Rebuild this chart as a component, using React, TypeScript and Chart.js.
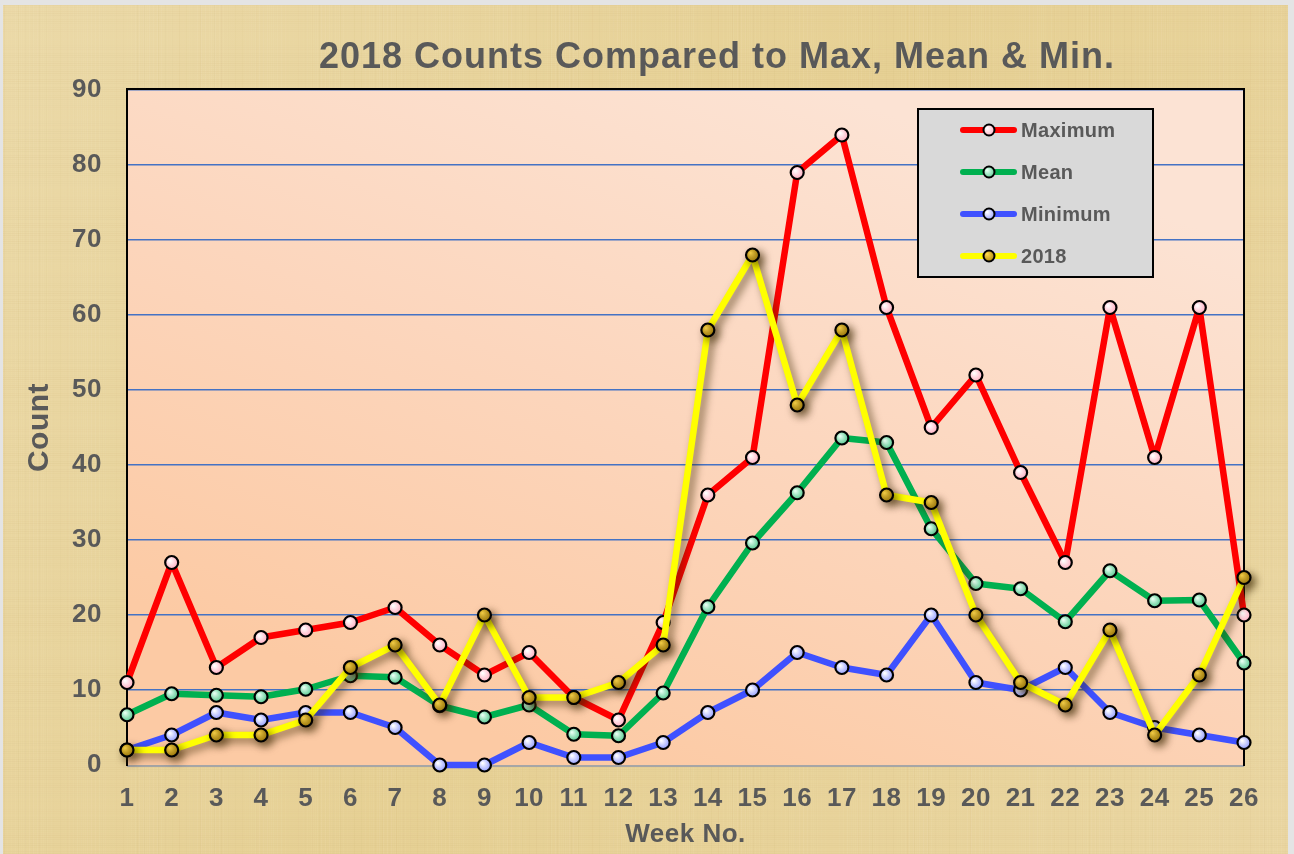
import { useEffect, useRef } from "react";
import { Chart, registerables } from "chart.js";

Chart.register(...registerables);

const weeks = ["1","2","3","4","5","6","7","8","9","10","11","12","13","14","15","16","17","18","19","20","21","22","23","24","25","26"];
const maximum = [11, 27, 13, 17, 18, 19, 21, 16, 12, 15, 9, 6, 19, 36, 41, 79, 84, 61, 45, 52, 39, 27, 61, 41, 61, 20];
const mean = [6.7, 9.5, 9.3, 9.1, 10.1, 11.9, 11.7, 7.9, 6.4, 8.0, 4.1, 3.9, 9.6, 21.1, 29.6, 36.3, 43.6, 43.0, 31.5, 24.2, 23.5, 19.1, 25.9, 21.9, 22.0, 13.6];
const minimum = [2, 4, 7, 6, 7, 7, 5, 0, 0, 3, 1, 1, 3, 7, 10, 15, 13, 12, 20, 11, 10, 13, 7, 5, 4, 3];
const counts2018 = [2, 2, 4, 4, 6, 13, 16, 8, 20, 9, 9, 11, 16, 58, 68, 48, 58, 36, 35, 20, 11, 8, 18, 4, 12, 25];
const yTicks = [0, 10, 20, 30, 40, 50, 60, 70, 80, 90];

const TITLE = "2018 Counts Compared to Max, Mean & Min.";
const TEXT = "#595959";
const FONT = "'Liberation Sans', Arial, sans-serif";

const seriesStyle = [
  { label: "Maximum", line: "#FF0000", inner: "#FFFFFF", outer: "#FF9FB5" },
  { label: "Mean", line: "#00B050", inner: "#E6FFF2", outer: "#3CBF7E" },
  { label: "Minimum", line: "#3F51FF", inner: "#FFFFFF", outer: "#7F8CFF" },
  { label: "2018", line: "#FFFF00", inner: "#FFD84A", outer: "#9A7400" },
];

function radial(ctx: CanvasRenderingContext2D, x: number, y: number, inner: string, outer: string) {
  const g = ctx.createRadialGradient(x - 2, y - 2, 0.5, x, y, 8);
  g.addColorStop(0, inner);
  g.addColorStop(1, outer);
  return g;
}

export default function App() {
  const ref = useRef<HTMLCanvasElement>(null);

  useEffect(() => {
    document.body.style.margin = "0";
    const canvas = ref.current!;

    const pointFill = (i: number) => (c: any) => {
      const chart = c.chart;
      const s = seriesStyle[i];
      if (!chart.scales || !chart.scales.x || c.raw === undefined) return s.outer;
      const x = chart.scales.x.getPixelForValue(c.dataIndex);
      const y = chart.scales.y.getPixelForValue(c.raw);
      if (!isFinite(x) || !isFinite(y)) return s.outer;
      return radial(chart.ctx, x, y, s.inner, s.outer);
    };

    const bgPlugin = {
      id: "bgPlugin",
      beforeDraw(chart: any) {
        const ctx: CanvasRenderingContext2D = chart.ctx;
        const W = chart.width, H = chart.height;
        ctx.save();
        ctx.fillStyle = "#E4E4E4";
        ctx.fillRect(0, 0, W, H);
        const g = ctx.createLinearGradient(0, 0, W, H);
        g.addColorStop(0, "#EBD9A8");
        g.addColorStop(0.5, "#E6D094");
        g.addColorStop(1, "#EAD6A2");
        ctx.fillStyle = g;
        ctx.fillRect(3, 5, 1285, H - 5);
        for (let x = 3; x < 1288; x += 2) {
          const a = 0.09 * Math.abs(Math.sin(x * 0.71) * Math.sin(x * 0.053));
          ctx.fillStyle = `rgba(255,248,225,${a})`;
          ctx.fillRect(x, 5, 1, H - 5);
        }
        for (let x = 4; x < 1288; x += 7) {
          const a = 0.06 * Math.abs(Math.sin(x * 0.29) * Math.cos(x * 0.017));
          ctx.fillStyle = `rgba(180,150,80,${a})`;
          ctx.fillRect(x, 5, 1, H - 5);
        }
        for (let y = 5; y < H; y += 2) {
          const a = 0.07 * Math.abs(Math.sin(y * 0.37) * Math.cos(y * 0.041));
          ctx.fillStyle = `rgba(190,160,90,${a})`;
          ctx.fillRect(3, y, 1285, 1);
        }
        const ca = chart.chartArea;
        const pg = ctx.createLinearGradient(ca.left + 700, ca.top, ca.left + 450, ca.bottom);
        pg.addColorStop(0, "#FCE3D4");
        pg.addColorStop(0.5, "#FCD6BD");
        pg.addColorStop(1, "#FCCAA4");
        ctx.fillStyle = pg;
        ctx.fillRect(ca.left, ca.top, ca.right - ca.left, ca.bottom - ca.top);
        ctx.restore();

        // title
        ctx.save();
        (ctx as any).letterSpacing = "1px";
        ctx.font = `bold 36px ${FONT}`;
        ctx.fillStyle = TEXT;
        ctx.textAlign = "center";
        ctx.textBaseline = "alphabetic";
        ctx.fillText(TITLE, 717, 68);
        ctx.restore();
        (ctx as any).letterSpacing = "0.5px";
      },
      beforeDatasetsDraw(chart: any) {
        const ctx: CanvasRenderingContext2D = chart.ctx;
        const ca = chart.chartArea;
        ctx.save();
        ctx.strokeStyle = "#A6A6A6";
        ctx.lineWidth = 2;
        ctx.beginPath();
        ctx.moveTo(ca.left, ca.bottom + 1);
        ctx.lineTo(ca.right, ca.bottom + 1);
        ctx.stroke();
        ctx.strokeStyle = "#000000";
        ctx.lineWidth = 2;
        ctx.beginPath();
        ctx.moveTo(ca.left, ca.bottom + 1);
        ctx.lineTo(ca.left, ca.top - 1);
        ctx.lineTo(ca.right, ca.top - 1);
        ctx.lineTo(ca.right, ca.bottom + 1);
        ctx.stroke();
        ctx.restore();
      },
      beforeDatasetDraw(chart: any, args: any) {
        const ctx: CanvasRenderingContext2D = chart.ctx;
        ctx.save();
        if (args.index === 3) {
          ctx.shadowColor = "rgba(60,40,0,0.6)";
          ctx.shadowBlur = 8;
          ctx.shadowOffsetX = 4;
          ctx.shadowOffsetY = 4;
        }
      },
      afterDatasetDraw(chart: any) {
        chart.ctx.restore();
      },
      afterDraw(chart: any) {
        const ctx: CanvasRenderingContext2D = chart.ctx;
        ctx.save();
        ctx.fillStyle = "#D9D9D9";
        ctx.fillRect(918, 109, 235, 168);
        ctx.strokeStyle = "#000";
        ctx.lineWidth = 2;
        ctx.strokeRect(918, 109, 235, 168);
        const rows = [130, 172, 214, 256];
        seriesStyle.forEach((s, i) => {
          const y = rows[i];
          ctx.strokeStyle = s.line;
          ctx.lineWidth = 6;
          ctx.lineCap = "round";
          ctx.beginPath();
          ctx.moveTo(963, y);
          ctx.lineTo(1014, y);
          ctx.stroke();
          ctx.beginPath();
          ctx.arc(989, y, 5.5, 0, Math.PI * 2);
          ctx.fillStyle = radial(ctx, 989, y, s.inner, s.outer);
          ctx.fill();
          ctx.lineWidth = 2;
          ctx.strokeStyle = "#000";
          ctx.stroke();
          (ctx as any).letterSpacing = "0.3px";
          ctx.font = `bold 20px ${FONT}`;
          ctx.fillStyle = TEXT;
          ctx.textAlign = "left";
          ctx.textBaseline = "middle";
          ctx.fillText(s.label, 1021, y + 1);
        });
        ctx.restore();
      },
    };

    const data = [maximum, mean, minimum, counts2018];
    const chart = new Chart(canvas, {
      type: "line",
      data: {
        labels: weeks,
        datasets: data.map((d, i) => ({
          label: seriesStyle[i].label,
          data: d,
          borderColor: seriesStyle[i].line,
          backgroundColor: seriesStyle[i].line,
          borderWidth: 6.5,
          borderJoinStyle: "round",
          borderCapStyle: "round",
          tension: 0,
          pointRadius: 6.5,
          pointHoverRadius: 6.5,
          pointBorderWidth: 2.2,
          pointBorderColor: "#000000",
          pointBackgroundColor: pointFill(i),
          order: 4 - i,
          clip: false as any,
        })),
      },
      options: {
        responsive: false,
        animation: false,
        devicePixelRatio: 1,
        layout: { padding: { top: 90, right: 50, left: 0, bottom: 0 } },
        plugins: {
          legend: { display: false },
          title: { display: false },
          tooltip: { enabled: false },
        },
        scales: {
          x: {
            type: "category",
            offset: false,
            grid: { display: false, drawTicks: false },
            border: { display: false },
            ticks: {
              color: TEXT,
              font: { family: FONT, size: 26, weight: "bold" },
              padding: 18,
              maxRotation: 0,
              autoSkip: false,
            },
            title: {
              display: true,
              text: "Week No.",
              color: TEXT,
              font: { family: FONT, size: 26, weight: "bold" },
              padding: { top: 0, bottom: 4 },
            },
            afterFit(scale: any) {
              scale.height = 89;
            },
          },
          y: {
            min: 0,
            max: 90,
            afterBuildTicks(scale: any) {
              scale.ticks = yTicks.map((v) => ({ value: v }));
            },
            grid: {
              color: (c: any) => (c.tick && c.tick.value === 0 ? "rgba(0,0,0,0)" : "#4472C4"),
              lineWidth: 1.5,
              drawTicks: false,
            },
            border: { display: false },
            ticks: {
              color: TEXT,
              font: { family: FONT, size: 26, weight: "bold" },
              padding: 25,
            },
            title: {
              display: true,
              text: "Count",
              color: TEXT,
              font: { family: FONT, size: 30, weight: "bold" },
              padding: { top: 22, bottom: 0 },
            },
            afterFit(scale: any) {
              scale.width = 127;
            },
          },
        },
      } as any,
      plugins: [bgPlugin],
    });

    return () => chart.destroy();
  }, []);

  return (
    <div style={{ width: 1294, height: 854, overflow: "hidden" }}>
      <canvas ref={ref} width={1294} height={854} style={{ width: 1294, height: 854, display: "block" }} />
    </div>
  );
}
